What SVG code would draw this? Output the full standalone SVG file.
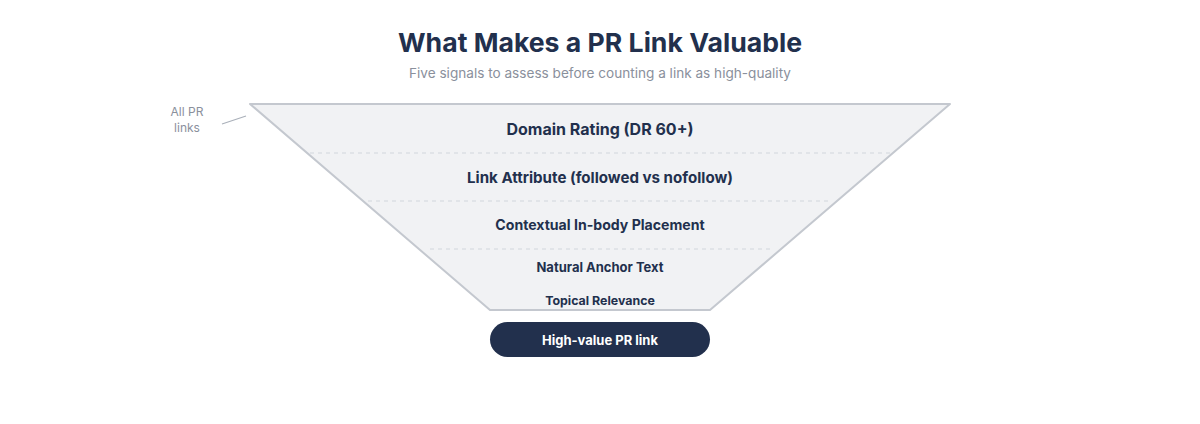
<svg xmlns="http://www.w3.org/2000/svg" width="1200" height="424" viewBox="0 0 1200 424">
<style>
.t{font-family:Inter,"Liberation Sans",sans-serif;fill:#22304d;font-weight:700;text-anchor:middle}
.sub{font-family:Inter,"Liberation Sans",sans-serif;fill:#8a909c;text-anchor:middle}
.div{stroke:#dcdfe4;stroke-width:1.5;stroke-dasharray:4 4;fill:none}
</style>
<rect width="1200" height="424" fill="#ffffff"/>
<g id="title">
<text class="t" x="600" y="52" font-size="26" textLength="404" lengthAdjust="spacingAndGlyphs">What Makes a PR Link Valuable</text>
<text class="sub" x="600" y="78" font-size="13.5" font-weight="400" textLength="382" lengthAdjust="spacingAndGlyphs">Five signals to assess before counting a link as high-quality</text>
</g>
<g id="funnel">
<path d="M250,104 L950,104 L710,310 L490,310 Z" fill="#f1f2f4" stroke="#c4c8cf" stroke-width="2" stroke-linejoin="round"/>
<line class="div" x1="310" y1="153" x2="890" y2="153"/>
<line class="div" x1="368" y1="201" x2="832" y2="201"/>
<line class="div" x1="430" y1="249" x2="770" y2="249"/>
</g>
<g id="stage1"><text class="t" x="600" y="135" font-size="16">Domain Rating (DR 60+)</text></g>
<g id="stage2"><text class="t" x="600" y="183" font-size="15.1">Link Attribute (followed vs nofollow)</text></g>
<g id="stage3"><text class="t" x="600" y="230" font-size="14.1">Contextual In-body Placement</text></g>
<g id="stage4"><text class="t" x="600" y="272" font-size="13">Natural Anchor Text</text></g>
<g id="stage5"><text class="t" x="600" y="305" font-size="12.4">Topical Relevance</text></g>
<g id="result">
<rect x="490" y="322" width="220" height="35" rx="17.5" fill="#22304d"/>
<text x="600" y="345" font-family="Inter,'Liberation Sans',sans-serif" font-size="13" font-weight="700" fill="#ffffff" text-anchor="middle">High-value PR link</text>
</g>
<g id="label">
<text class="sub" x="187" y="116" font-size="12">All PR</text>
<text class="sub" x="187" y="132" font-size="12">links</text>
</g>
<g id="connectors">
<line x1="222" y1="124" x2="246" y2="116" stroke="#aab0ba" stroke-width="1.2"/>
</g>
</svg>
